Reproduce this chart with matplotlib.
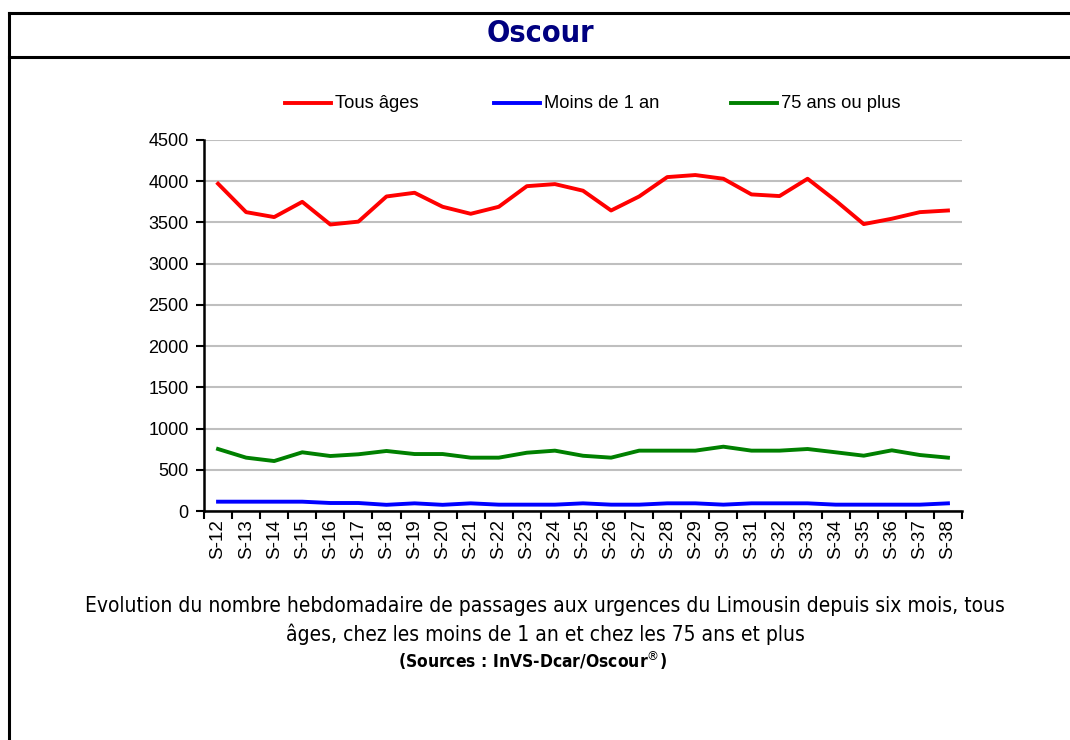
import matplotlib.pyplot as plt
from matplotlib.lines import Line2D

weeks = ['S-%d' % w for w in range(12, 39)]
tous_ages = [3970, 3625, 3565, 3750, 3475, 3510, 3815, 3860, 3690, 3605, 3690,
             3940, 3965, 3885, 3645, 3815, 4050, 4075, 4030, 3840, 3820, 4030,
             3765, 3480, 3545, 3625, 3645]
moins_1_an = [113, 113, 113, 113, 97, 97, 75, 93, 75, 93, 77, 77, 77, 93, 77,
              77, 93, 93, 77, 93, 93, 93, 77, 77, 77, 77, 93]
plus_75 = [752, 647, 606, 712, 667, 688, 728, 691, 691, 647, 647, 707, 732,
           670, 647, 732, 732, 732, 780, 732, 732, 752, 712, 671, 736, 679, 647]
series_names = ['Tous âges', 'Moins de 1 an', '75 ans ou plus']
series_colors = ['#FF0000', '#0000FF', '#008000']
y_ticks = list(range(0, 5000, 500))

plt.rcParams['font.family'] = ['Liberation Sans', 'DejaVu Sans']
narrow = dict(family='DejaVu Sans', fontstretch='condensed')

fig = plt.figure(figsize=(10.7, 7.4), dpi=100)

# frame of the page
fig.add_artist(Line2D([9 / 1070, 9 / 1070], [0, 1 - 13 / 740], color='black', lw=2.2, transform=fig.transFigure))
fig.add_artist(Line2D([9 / 1070, 1], [1 - 13 / 740, 1 - 13 / 740], color='black', lw=2.2, transform=fig.transFigure))
fig.add_artist(Line2D([9 / 1070, 1], [1 - 57 / 740, 1 - 57 / 740], color='black', lw=2.2, transform=fig.transFigure))
fig.text(540 / 1070, 1 - 34 / 740, 'Oscour', ha='center', va='center', fontsize=22,
         fontweight='bold', color='#000080', **narrow)

ax = fig.add_axes([204 / 1070, 1 - 511 / 740, (962 - 204) / 1070, (511 - 140) / 740])
x = list(range(len(weeks)))
for vals, name, col in zip([tous_ages, moins_1_an, plus_75], series_names, series_colors):
    ax.plot(x, vals, color=col, lw=2.8, label=name)

ax.set_xlim(-0.5, len(weeks) - 0.5)
ax.set_ylim(0, 4500)
ax.set_yticks(y_ticks)
ax.set_yticklabels([str(v) for v in y_ticks], fontsize=13)
ax.set_xticks([i - 0.5 for i in range(len(weeks) + 1)])
ax.set_xticklabels([])
ax.set_xticks(x, minor=True)
ax.set_xticklabels(weeks, minor=True, rotation=90, fontsize=13.5)
ax.tick_params(axis='x', which='minor', length=0, pad=6)
ax.tick_params(axis='x', which='major', length=6, width=1.5, direction='out')
ax.tick_params(axis='y', length=6, width=1.5, direction='out', pad=5)
ax.grid(axis='y', color='#BFBFBF', lw=1.5)
ax.set_axisbelow(True)
for s in ['top', 'right']:
    ax.spines[s].set_visible(False)
for s in ['left', 'bottom']:
    ax.spines[s].set_linewidth(1.8)

# legend drawn by hand, like the Excel one
legend_x = [285, 494, 731]
for lx, name, col in zip(legend_x, series_names, series_colors):
    fig.add_artist(Line2D([lx / 1070, (lx + 46) / 1070], [1 - 103 / 740] * 2, color=col, lw=2.8,
                          transform=fig.transFigure))
    fig.text((lx + 50) / 1070, 1 - 103 / 740, name, ha='left', va='center', fontsize=13.2)

fig.text(545 / 1070, 1 - 606 / 740,
         'Evolution du nombre hebdomadaire de passages aux urgences du Limousin depuis six mois, tous',
         ha='center', va='center', fontsize=15, **narrow)
fig.text(545 / 1070, 1 - 634 / 740, 'âges, chez les moins de 1 an et chez les 75 ans et plus',
         ha='center', va='center', fontsize=15, **narrow)
fig.text(533 / 1070, 1 - 661 / 740, r'(Sources : InVS-Dcar/Oscour$^{\circledR}$)',
         ha='center', va='center', fontsize=12.5, fontweight='bold', **narrow)

fig.savefig('out.png', dpi=100)
